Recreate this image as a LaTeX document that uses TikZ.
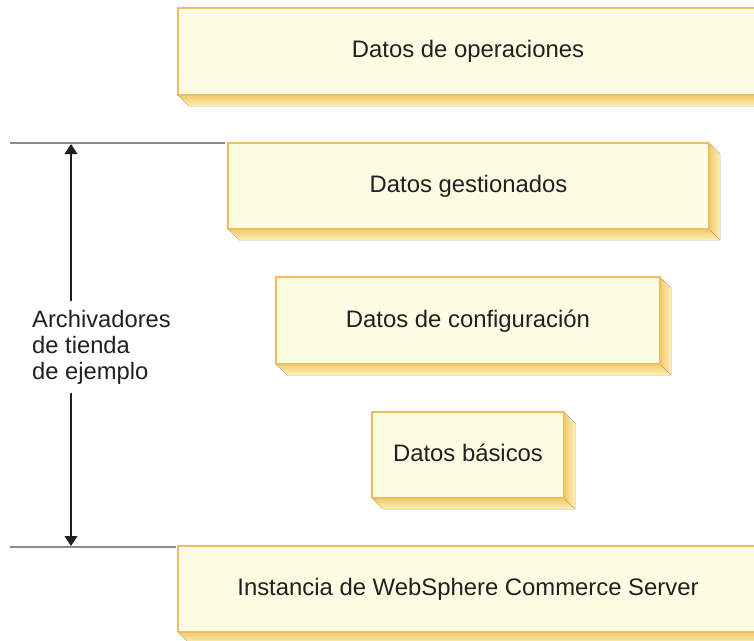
\documentclass[tikz,border=0pt]{standalone}
\usepackage{fontspec}
\setmainfont{Liberation Sans}
\usetikzlibrary{arrows.meta}
\definecolor{boxfill}{HTML}{FFFCE4}
\definecolor{boxline}{HTML}{F0BD5C}
\definecolor{depthdark}{HTML}{F2CB6C}
\definecolor{depthlight}{HTML}{FCEDB6}
\definecolor{rulegray}{HTML}{8A8A8A}
\definecolor{textcol}{HTML}{231F20}
\newcommand{\cubebox}[7]{%
  \fill[top color=depthdark, bottom color=depthlight, draw=none]
    (#2,#5) -- (#2+11,#5+11) -- (#4+11,#5+11) -- (#4,#5) -- cycle;
  \fill[left color=depthdark, right color=depthlight, draw=none]
    (#4,#3) -- (#4+11,#3+11) -- (#4+11,#5+11) -- (#4,#5) -- cycle;
  \draw[frontface] (#2,#3) rectangle (#4,#5);
  \node[boxtext] (#1) at ({(#2+#4)/2},{(#3+#5)/2+#7}) {#6};
}
\begin{document}
\begin{tikzpicture}[x=0.75pt,y=-0.75pt,
  frontface/.style={draw=boxline, fill=boxfill, line width=1.5pt},
  boxtext/.style={anchor=base, inner sep=0pt, text=textcol, font=\fontsize{17.9}{21}\selectfont},
  rulestyle/.style={draw=rulegray, line width=1.1pt},
  dimarrow/.style={draw=textcol, line width=0.9pt, {Triangle[length=7.5pt,width=9.75pt]}-{Triangle[length=7.5pt,width=9.75pt]}},
  sidelabel/.style={anchor=north west, fill=white, inner xsep=2pt, inner ysep=6.75pt, align=left, text=textcol, font=\fontsize{17.8}{19.5}\selectfont}
]
\useasboundingbox (0,0) rectangle (754,640);
\clip (0,0) rectangle (754,640);
\cubebox{op}{178}{8}{758}{95}{Datos de operaciones}{5.5}
\cubebox{ges}{228}{143}{709}{229}{Datos gestionados}{6.8}
\cubebox{conf}{276}{277}{660}{364}{Datos de configuración}{6.8}
\cubebox{bas}{372}{412}{564}{498}{Datos básicos}{6.5}
\cubebox{inst}{178}{546}{758}{632}{Instancia de WebSphere Commerce Server}{6.5}
\coordinate (topA) at (10,143);
\coordinate (topB) at (225,143);
\coordinate (botA) at (10,547);
\coordinate (botB) at (176,547);
\coordinate (arrT) at (71,144);
\coordinate (arrB) at (71,546);
\draw[rulestyle] (topA) -- (topB);
\draw[rulestyle] (botA) -- (botB);
\draw[dimarrow] (arrT) -- (arrB);
\node[sidelabel] (lab) at (29.3,301) {Archivadores\\de tienda\\de ejemplo};
\end{tikzpicture}
\end{document}
